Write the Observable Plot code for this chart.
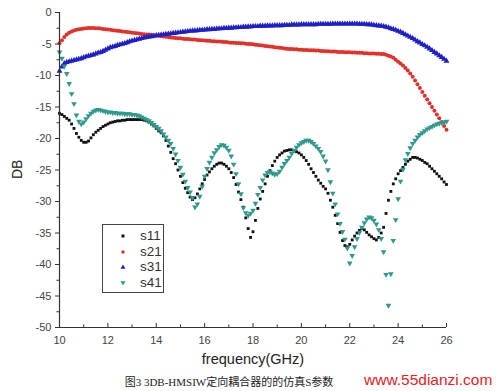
<!DOCTYPE html>
<html>
<head>
<meta charset="utf-8">
<script src="https://cdn.jsdelivr.net/npm/d3@7"></script>
<script src="https://cdn.jsdelivr.net/npm/@observablehq/plot@0.6"></script>
<style>
  html, body { margin: 0; padding: 0; background: #fff; }
  #wrap { position: relative; width: 500px; height: 391px; overflow: hidden; font-family: "Liberation Sans", Arial, sans-serif; }
  #legend { position: absolute; left: 102px; top: 224px; width: 62px; height: 69px; border: 1px solid #444; box-sizing: border-box; background: #fff; }
  #legend .row { position: absolute; left: 0; height: 16px; width: 60px; }
  #legend svg { position: absolute; left: 16px; top: 4px; }
  #legend span { position: absolute; left: 37px; top: 0px; font-size: 13.5px; color: #333; line-height: 16px; }
  #caption { position: absolute; left: 0; width: 458px; text-align: center; top: 373px; font-family: "Liberation Serif", "Noto Sans CJK SC", serif; font-size: 11px; color: #222; }
  #wm { position: absolute; left: 364px; top: 371px; font-family: "Liberation Sans", Arial, sans-serif; font-size: 15.5px; color: #e2231e; white-space: nowrap; }
</style>
</head>
<body>
<div id="wrap"></div>
<script>
// Frequency grid (GHz) of the simulation sweep
const freq = d3.range(161).map(i => +(10 + i * 0.1).toFixed(1));

const s11 = [
  -16.0,-16.2,-16.5,-16.8,-17.1,-17.7,-18.4,-19.2,-19.8,-20.3,
  -20.6,-20.6,-20.4,-19.9,-19.4,-19.0,-18.7,-18.4,-18.1,-17.9,
  -17.7,-17.5,-17.4,-17.3,-17.2,-17.2,-17.1,-17.1,-17.0,-17.0,
  -17.0,-17.0,-17.0,-17.0,-17.0,-17.1,-17.2,-17.4,-17.7,-18.0,
  -18.4,-18.8,-19.1,-19.6,-20.3,-21.2,-22.2,-23.2,-24.0,-25.0,
  -26.0,-27.0,-27.9,-28.6,-29.3,-29.7,-29.4,-28.8,-28.0,-27.2,
  -26.5,-25.8,-25.3,-24.8,-24.4,-24.1,-23.9,-23.9,-24.1,-24.4,
  -24.8,-25.4,-26.2,-27.3,-28.5,-29.7,-30.9,-32.6,-34.3,-35.7,
  -34.8,-33.0,-31.1,-29.6,-28.4,-27.2,-26.0,-25.1,-24.3,-23.6,
  -23.0,-22.6,-22.3,-22.0,-21.9,-21.8,-21.8,-21.9,-22.1,-22.3,
  -22.6,-23.0,-23.5,-24.1,-24.8,-25.4,-26.0,-26.6,-27.1,-27.6,
  -28.0,-28.7,-29.8,-30.9,-32.2,-33.5,-34.9,-36.2,-37.0,-37.2,
  -36.8,-36.1,-35.5,-35.0,-34.6,-34.3,-34.5,-34.9,-35.3,-35.6,
  -35.9,-36.1,-35.7,-35.0,-34.1,-31.9,-29.8,-28.4,-27.2,-26.4,
  -25.6,-25.1,-24.6,-24.1,-23.6,-23.3,-23.0,-23.0,-23.1,-23.3,
  -23.5,-23.8,-24.0,-24.4,-24.8,-25.2,-25.6,-26.0,-26.4,-26.9,
  -27.3
];

const s21 = [
  -4.9,-4.4,-3.9,-3.5,-3.2,-3.0,-2.85,-2.75,-2.65,-2.6,
  -2.55,-2.5,-2.45,-2.45,-2.45,-2.5,-2.5,-2.55,-2.6,-2.65,
  -2.7,-2.75,-2.8,-2.85,-2.9,-2.95,-3.0,-3.05,-3.1,-3.15,
  -3.2,-3.25,-3.3,-3.35,-3.4,-3.45,-3.5,-3.5,-3.55,-3.6,
  -3.65,-3.7,-3.75,-3.8,-3.85,-3.9,-3.95,-4.0,-4.05,-4.1,
  -4.1,-4.15,-4.2,-4.2,-4.25,-4.3,-4.3,-4.35,-4.4,-4.4,
  -4.45,-4.5,-4.5,-4.55,-4.55,-4.6,-4.6,-4.65,-4.7,-4.7,
  -4.75,-4.8,-4.8,-4.85,-4.85,-4.9,-4.9,-4.95,-5.0,-5.0,
  -5.05,-5.1,-5.15,-5.2,-5.25,-5.3,-5.35,-5.4,-5.45,-5.5,
  -5.55,-5.6,-5.65,-5.7,-5.75,-5.8,-5.8,-5.85,-5.85,-5.9,
  -5.9,-5.95,-5.95,-6.0,-6.0,-6.0,-6.05,-6.05,-6.1,-6.1,
  -6.15,-6.15,-6.2,-6.2,-6.2,-6.25,-6.25,-6.25,-6.3,-6.3,
  -6.3,-6.35,-6.35,-6.4,-6.4,-6.4,-6.45,-6.45,-6.5,-6.5,
  -6.5,-6.55,-6.55,-6.6,-6.6,-6.7,-6.85,-7.0,-7.2,-7.5,
  -7.8,-8.1,-8.4,-8.8,-9.2,-9.7,-10.2,-10.8,-11.4,-12.0,
  -12.6,-13.2,-13.8,-14.4,-15.0,-15.6,-16.2,-16.8,-17.4,-18.0,
  -18.6
];

const s31 = [
  -9.3,-8.6,-8.1,-7.9,-7.8,-7.7,-7.6,-7.5,-7.4,-7.3,
  -7.15,-7.0,-6.9,-6.8,-6.7,-6.55,-6.4,-6.3,-6.15,-5.95,
  -5.75,-5.55,-5.45,-5.35,-5.2,-5.1,-5.0,-4.9,-4.75,-4.6,
  -4.5,-4.4,-4.3,-4.2,-4.1,-4.0,-3.95,-3.85,-3.8,-3.75,
  -3.65,-3.6,-3.55,-3.5,-3.45,-3.4,-3.35,-3.3,-3.25,-3.2,
  -3.15,-3.1,-3.05,-3.0,-2.95,-2.9,-2.9,-2.85,-2.8,-2.8,
  -2.75,-2.7,-2.7,-2.65,-2.65,-2.6,-2.55,-2.55,-2.5,-2.5,
  -2.45,-2.45,-2.4,-2.4,-2.35,-2.35,-2.3,-2.3,-2.25,-2.25,
  -2.2,-2.2,-2.2,-2.15,-2.15,-2.15,-2.1,-2.1,-2.1,-2.05,
  -2.05,-2.05,-2.05,-2.0,-2.0,-2.0,-1.95,-1.95,-1.95,-1.95,
  -1.9,-1.9,-1.9,-1.9,-1.9,-1.9,-1.9,-1.85,-1.85,-1.85,
  -1.85,-1.85,-1.85,-1.8,-1.8,-1.8,-1.8,-1.8,-1.8,-1.8,
  -1.8,-1.8,-1.8,-1.8,-1.85,-1.85,-1.85,-1.9,-1.9,-1.95,
  -2.0,-2.05,-2.1,-2.15,-2.2,-2.3,-2.4,-2.55,-2.65,-2.8,
  -2.95,-3.1,-3.3,-3.5,-3.7,-3.9,-4.1,-4.35,-4.6,-4.8,
  -5.05,-5.25,-5.5,-5.75,-6.0,-6.3,-6.55,-6.85,-7.1,-7.4,
  -7.7
];

const s41 = [
  -6.3,-7.3,-8.5,-9.7,-11.3,-12.9,-14.5,-16.3,-17.3,-17.7,
  -17.4,-16.9,-16.4,-16.0,-15.7,-15.5,-15.4,-15.5,-15.6,-15.7,
  -15.8,-15.8,-15.9,-15.9,-16.0,-16.0,-16.0,-16.1,-16.1,-16.1,
  -16.2,-16.2,-16.3,-16.4,-16.6,-16.8,-17.0,-17.2,-17.5,-17.8,
  -18.1,-18.4,-18.8,-19.3,-19.8,-20.3,-20.8,-21.6,-22.5,-23.5,
  -24.6,-25.7,-26.8,-27.8,-28.5,-29.4,-30.9,-30.4,-29.2,-27.6,
  -26.0,-24.8,-23.8,-23.0,-22.3,-21.8,-21.3,-21.0,-21.1,-21.4,
  -21.9,-22.8,-24.1,-25.6,-27.2,-28.8,-31.0,-31.8,-32.2,-31.9,
  -31.4,-30.3,-28.9,-27.8,-26.6,-25.8,-25.4,-25.3,-25.5,-25.7,
  -25.6,-25.2,-24.6,-24.0,-23.5,-23.0,-22.4,-21.9,-21.4,-21.0,
  -20.7,-20.5,-20.3,-20.3,-20.5,-20.8,-21.2,-21.6,-22.1,-22.8,
  -23.6,-25.0,-26.9,-28.7,-30.4,-32.0,-33.5,-34.8,-36.0,-37.4,
  -39.8,-38.6,-37.2,-35.9,-34.9,-34.1,-33.4,-32.8,-32.5,-32.6,
  -33.0,-33.6,-34.5,-35.9,-38.0,-41.6,-46.5,-41.5,-36.2,-32.9,
  -29.6,-26.8,-24.9,-23.4,-22.4,-21.5,-20.8,-20.3,-19.8,-19.4,
  -19.1,-18.8,-18.5,-18.3,-18.1,-17.9,-17.7,-17.6,-17.5,-17.4,
  -17.3
];

const seriesNames = ["s11", "s21", "s31", "s41"];
const seriesColors = ["#111111", "#e2302a", "#1f1fc8", "#2e9a8c"];
const xMajor = [10, 12, 14, 16, 18, 20, 22, 24, 26];
const xMinor = [11, 13, 15, 17, 19, 21, 23, 25];
const yMajor = [-50, -45, -40, -35, -30, -25, -20, -15, -10, -5, 0];
const yMinor = [-47.5, -42.5, -37.5, -32.5, -27.5, -22.5, -17.5, -12.5, -7.5, -2.5];
const xLabel = "frequency(GHz)";
const yLabel = "DB";
const captionText = "图3 3DB-HMSIW定向耦合器的的仿真S参数";
const watermark = "www.55dianzi.com";

const toRows = (vals, name) => freq.map((f, i) => ({f, v: vals[i], name}));
const d11 = toRows(s11, "s11"), d21 = toRows(s21, "s21"), d31 = toRows(s31, "s31"), d41 = toRows(s41, "s41");
const yMin = -50;
const axisColor = "#333";

const chart = Plot.plot({
  width: 500,
  height: 372,
  marginLeft: 59,
  marginRight: 54,
  marginTop: 12,
  marginBottom: 45,
  style: {fontFamily: "Liberation Sans, Arial, sans-serif", background: "transparent"},
  x: {domain: [10, 26]},
  y: {domain: [-50, 0]},
  marks: [
    Plot.dot(d21, {x: "f", y: "v", r: 2, fill: seriesColors[1], stroke: "none"}),
    Plot.dot(d31, {x: "f", y: "v", r: 2.2, symbol: "triangle", fill: seriesColors[2], stroke: "none"}),
    Plot.dot(d11, {x: "f", y: "v", r: 1.6, symbol: "square", fill: seriesColors[0], stroke: "none"}),
    Plot.dot(d41, {x: "f", y: "v", r: 2.1, symbol: "triangle", rotate: 180, fill: seriesColors[3], stroke: "none"}),
    Plot.ruleX([10], {stroke: axisColor, strokeWidth: 1.2}),
    Plot.ruleY([yMin], {stroke: axisColor, strokeWidth: 1.2}),
    Plot.axisY({ticks: yMajor, tickSize: 4, tickPadding: 4, tickFormat: d => String(d), label: null, fontSize: 11, color: "#444", stroke: axisColor}),
    Plot.axisY({ticks: yMinor, tickSize: 2.5, tickFormat: () => "", label: null, stroke: axisColor}),
    Plot.axisX({ticks: xMajor, tickSize: 0, tickPadding: 9, tickFormat: d => String(d), label: null, fontSize: 11, color: "#444"}),
    Plot.ruleX(xMajor, {y1: yMin, y2: yMin, insetTop: -4, stroke: axisColor}),
    Plot.ruleX(xMinor, {y1: yMin, y2: yMin, insetTop: -2.5, stroke: axisColor}),
    Plot.text([xLabel], {frameAnchor: "bottom", dy: 36, fontSize: 14.5, fill: "#222", text: d => d}),
    Plot.text([yLabel], {frameAnchor: "left", dx: -42, dy: 9, rotate: -90, fontSize: 14, fill: "#222", text: d => d})
  ]
});

const wrap = document.getElementById("wrap");
wrap.appendChild(chart);

const legend = document.createElement("div");
legend.id = "legend";
const shapes = [
  `<rect x="2.5" y="2.5" width="3" height="3" fill="${seriesColors[0]}"/>`,
  `<circle cx="4" cy="4" r="1.8" fill="${seriesColors[1]}"/>`,
  `<path d="M4,1.6 L6.5,5.8 L1.5,5.8 Z" fill="${seriesColors[2]}"/>`,
  `<path d="M4,6.4 L6.5,2.2 L1.5,2.2 Z" fill="${seriesColors[3]}"/>`
];
seriesNames.forEach((n, i) => {
  const row = document.createElement("div");
  row.className = "row";
  row.style.top = (3 + i * 15.6) + "px";
  row.innerHTML = `<svg width="8" height="8">${shapes[i]}</svg><span>${n}</span>`;
  legend.appendChild(row);
});
wrap.appendChild(legend);

const cap = document.createElement("div");
cap.id = "caption";
cap.textContent = captionText;
wrap.appendChild(cap);

const wm = document.createElement("div");
wm.id = "wm";
wm.textContent = watermark;
wrap.appendChild(wm);
</script>
</body>
</html>
